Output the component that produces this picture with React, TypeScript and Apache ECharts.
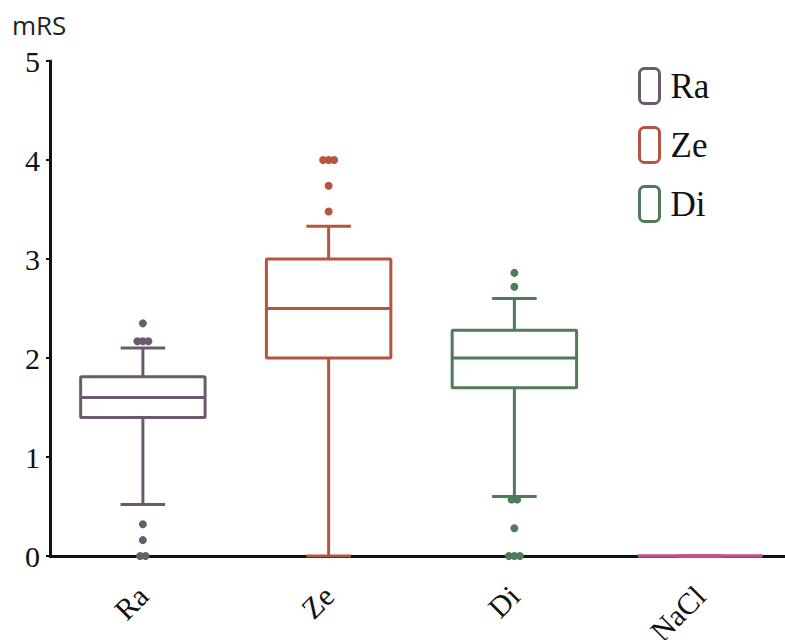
import React, { useEffect, useRef } from "react";
import * as echarts from "echarts";

const categories = ["Ra", "Ze", "Di", "NaCl"];
const legendNames = ["Ra", "Ze", "Di"];
const groupColors = ["#6B5A6E", "#B5553F", "#4F7B5A", "#C4508A"];
// [min, Q1, median, Q3, max]
const raStats = [0.52, 1.4, 1.6, 1.81, 2.1];
const zeStats = [0, 2.0, 2.5, 3.0, 3.33];
const diStats = [0.6, 1.7, 2.0, 2.28, 2.6];
const naclStats = [0, 0, 0, 0, 0];
const raOutliers = [2.35, 2.17, 2.17, 2.17, 0.32, 0.16, 0, 0];
const zeOutliers = [4, 4, 4, 3.74, 3.48];
const diOutliers = [2.86, 2.72, 0.57, 0.57, 0.28, 0, 0, 0];
const yMin = 0;
const yMax = 5;
const yStep = 1;

const SERIF = "Liberation Serif";

function outlierData(values: number[], cat: number, color: string) {
  const counts: Record<string, number> = {};
  values.forEach((v) => (counts[v] = (counts[v] || 0) + 1));
  const seen: Record<string, number> = {};
  return values.map((v) => {
    const n = counts[v];
    const i = seen[v] || 0;
    seen[v] = i + 1;
    const dx = (i - (n - 1) / 2) * 5.5;
    return { value: [cat, v], symbolOffset: [dx, 0], itemStyle: { color, opacity: 1 } };
  });
}

export default function App() {
  const ref = useRef<HTMLDivElement>(null);
  useEffect(() => {
    if (!ref.current) return;
    const chart = echarts.init(ref.current, undefined, { renderer: "svg" });
    const stats = [raStats, zeStats, diStats, naclStats];
    const boxData = stats.map((s, i) => [i, ...s]);
    const outliers = [raOutliers, zeOutliers, diOutliers];
    const legendText = { fontFamily: SERIF, fontSize: 35, color: "#111", lineHeight: 36, padding: [0, 0, 0, 6] };
    chart.setOption({
      animation: false,
      backgroundColor: "#fff",
      grid: { left: 50, width: 743, top: 61, bottom: 84, outerBoundsMode: "none", containLabel: false },
      graphic: [
        {
          type: "text",
          left: 12,
          top: 12,
          style: { text: "mRS", fontFamily: "Open Sans", fontSize: 26, fill: "#222" },
        },
      ],
      legend: {
        orient: "vertical",
        left: 638,
        top: 67,
        padding: 0,
        itemWidth: 20,
        itemHeight: 35,
        itemGap: 21,
        textStyle: legendText,
        data: legendNames.map((n, i) => ({
          name: n,
          icon: "roundRect",
          itemStyle: { color: "#fff", borderColor: groupColors[i], borderWidth: 3 },
          textStyle: legendText,
        })),
      },
      xAxis: {
        type: "category",
        data: categories,
        boundaryGap: true,
        axisLine: { lineStyle: { color: "#111", width: 3 } },
        axisTick: { alignWithLabel: true, length: 5, lineStyle: { color: "#111", width: 3 } },
        axisLabel: { rotate: 45, fontFamily: SERIF, fontSize: 30, color: "#111", margin: 35 },
        splitLine: { show: false },
      },
      yAxis: {
        type: "value",
        min: yMin,
        max: yMax,
        interval: yStep,
        axisLine: { show: true, lineStyle: { color: "#111", width: 3 } },
        axisTick: { show: true, length: 4, lineStyle: { color: "#111", width: 2 } },
        axisLabel: { fontFamily: SERIF, fontSize: 30, color: "#111", margin: 10 },
        splitLine: { show: false },
      },
      series: [
        {
          type: "custom",
          name: "box",
          data: boxData,
          encode: { x: 0, y: [1, 2, 3, 4, 5] },
          z: 3,
          renderItem: (params: any, api: any) => {
            const x = api.value(0);
            const color = groupColors[params.dataIndex];
            const band = api.size([1, 0])[0];
            const half = band * 0.335;
            const capHalf = band * 0.12;
            const pMin = api.coord([x, api.value(1)]);
            const pQ1 = api.coord([x, api.value(2)]);
            const pMed = api.coord([x, api.value(3)]);
            const pQ3 = api.coord([x, api.value(4)]);
            const pMax = api.coord([x, api.value(5)]);
            const cx = pMed[0];
            const style = { stroke: color, lineWidth: 3, fill: "none" };
            return {
              type: "group",
              children: [
                { type: "line", shape: { x1: cx, y1: pQ3[1], x2: cx, y2: pMax[1] }, style },
                { type: "line", shape: { x1: cx, y1: pQ1[1], x2: cx, y2: pMin[1] }, style },
                { type: "line", shape: { x1: cx - capHalf, y1: pMax[1], x2: cx + capHalf, y2: pMax[1] }, style },
                { type: "line", shape: { x1: cx - capHalf, y1: pMin[1], x2: cx + capHalf, y2: pMin[1] }, style },
                {
                  type: "rect",
                  shape: { x: cx - half, y: pQ3[1], width: 2 * half, height: pQ1[1] - pQ3[1], r: 1 },
                  style: { ...style, fill: "#fff" },
                },
                { type: "line", shape: { x1: cx - half, y1: pMed[1], x2: cx + half, y2: pMed[1] }, style },
              ],
            };
          },
        },
        ...outliers.map((vals, i) => ({
          type: "scatter",
          name: legendNames[i],
          symbolSize: 8,
          z: 4,
          itemStyle: { color: groupColors[i], opacity: 1 },
          data: outlierData(vals, i, groupColors[i]),
        })),
      ],
    });
    return () => chart.dispose();
  }, []);
  return <div ref={ref} style={{ position: "fixed", left: 0, top: 0, width: 785, height: 640 }} />;
}
